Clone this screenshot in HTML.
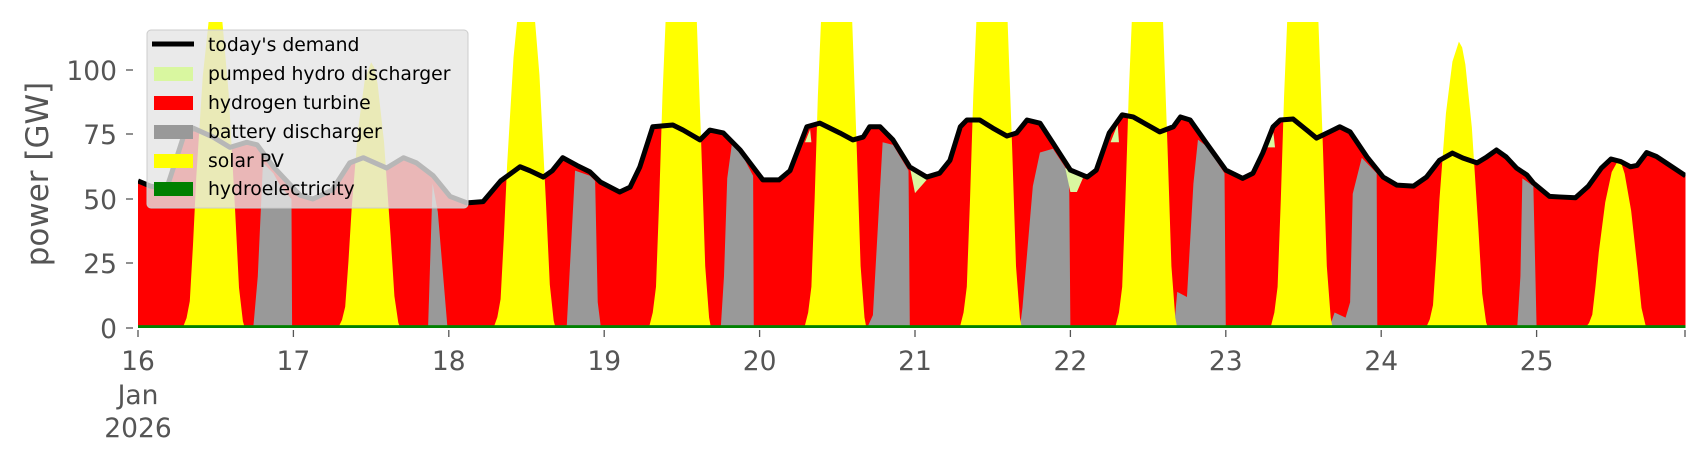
<!DOCTYPE html>
<html><head><meta charset="utf-8"><style>
html,body{margin:0;padding:0;background:#fff;}
svg{display:block;font-family:"DejaVu Sans","Liberation Sans",sans-serif;}
</style></head><body>
<svg width="1706" height="460" viewBox="0 0 1706 460" xmlns="http://www.w3.org/2000/svg">
<defs>
<clipPath id="cp"><rect x="0" y="0" width="239" height="118.6"/></clipPath>
<polygon id="sol" points="6.9,0 7.5,0.03 8,0.08 8.5,0.25 9,0.45 10,0.75 11,0.93 12,1 12.5,0.98 13,0.92 14,0.7 15,0.35 15.6,0.12 16.2,0.02 16.5,0"/>
</defs>
<g transform="translate(138,328) scale(6.475,-2.58)">
<g clip-path="url(#cp)">
<polygon fill="#ff0000" points="0,0 0,57 1.9,55 4.4,54 5,58.5 7,74 8.5,77.5 11.6,74 14.2,70 16.8,72 18.4,71 20.9,62.5 25,51.5 27,50 30,53.5 32.7,64 34.8,66 38.4,62 41,66 43,64 45.6,59 48.2,51 50.8,48.5 53.3,49 56,57 59,62.5 60.5,61 62.6,58.5 64,61 65.6,66 67.8,63 69.8,60.5 71.4,56.6 74.4,52.7 76,54.6 77.5,62.4 79.5,78 82.6,78.7 84.2,76.7 86.8,72.9 88.3,76.7 90.4,75.6 93,69 96.5,57.4 99,57.4 100.7,61 103.3,78 105.3,79.4 108.4,75.6 110.4,72.9 112,74 113,78 114.6,78 116.6,72.9 119.2,62.4 121.8,58.5 123.8,60 125.4,65 127,78 128,80.6 130,80.6 132,77.5 134.2,74.4 135.7,75.6 137.3,80.6 139.3,79.4 141.3,71.7 144,61.2 146.6,58.5 148,61.2 150,75.6 152,82.6 153.7,81.8 157.8,76 159.9,78 161,81.8 162.5,80.6 165,71.7 168,61.2 170.6,58 172.2,60 173.7,67.8 175.3,78 176.4,80.6 178.4,81 180.5,76.7 182,73.6 184,76 185.6,78 187.2,76 189.8,66.3 192.3,58.5 194.4,55.4 197,55 199,58.5 201,65 203,67.8 204.6,65.9 206.8,64 208.3,66.3 209.8,69 211.3,66.3 212.9,62 214.5,59.3 215.5,56.2 218,51 219.5,50.8 222,50.5 224,55 226,62 227.5,65.5 229,64.5 230.5,62.5 231.5,63 233,68 234.5,66.5 236,64 239,59 239,0"/>
<g fill="#999999">
<polygon points="17.8,0 18.5,20 19.3,64 20.9,60 22,55 23.7,50 23.8,0"/>
<polygon points="44.8,0 45.5,56 46.3,45 47.8,0"/>
<polygon points="66.2,0 67.5,61 69.8,59 70.6,57 71,10 71.5,0"/>
<polygon points="90,0 90.5,20 91,58 91.7,71 93,68.5 95,59 95.1,0"/>
<polygon points="112.6,0 113.5,5 115,72 116.6,71 119,61 119.2,0"/>
<polygon points="136.2,0 136.6,8 138.2,55 139.3,68 141.3,69.5 143.8,60 144,0"/>
<polygon points="160,0 160.5,14 162,12 163,56 163.7,73 165,70.5 167.8,60 168,0"/>
<polygon points="184,0 184.8,6 186.5,4 187.2,10 187.6,52 189,66 191.3,60 191.4,0"/>
<polygon points="213,0 213.5,20 213.8,58 215.5,55 216,0"/>
</g>
<g fill="#ffff00">
<use href="#sol" transform="translate(0,0) scale(1,130)"/>
<use href="#sol" transform="translate(24,0) scale(1,103)"/>
<use href="#sol" transform="translate(48,0) scale(1,140)"/>
<use href="#sol" transform="translate(72,0) scale(1,200)"/>
<use href="#sol" transform="translate(96,0) scale(1,200)"/>
<use href="#sol" transform="translate(120,0) scale(1,200)"/>
<use href="#sol" transform="translate(144,0) scale(1,200)"/>
<use href="#sol" transform="translate(168,0) scale(1,200)"/>
<use href="#sol" transform="translate(192,0) scale(1,111)"/>
<use href="#sol" transform="translate(216.6,0) scale(1,65)"/>
</g>
<g fill="#d9f7a0">
<polygon points="119.2,62.4 121.8,57.4 120,52.3"/>
<polygon points="143.2,62 144,52.7 145,52.7 146,58.5"/>
<polygon points="150.2,72 151.3,79 151.5,72"/>
<polygon points="174.4,70 175.3,77 175.6,70"/>
<polygon points="103,72 103.8,77 104,72"/>
</g>
<rect x="0" y="0" width="239" height="1.1" fill="#008000"/>
<polyline fill="none" stroke="#000" stroke-width="5" stroke-linejoin="round" vector-effect="non-scaling-stroke" points="0,57 1.9,55 4.4,54 5,58.5 7,74 8.5,77.5 11.6,74 14.2,70 16.8,72 18.4,71 20.9,62.5 25,51.5 27,50 30,53.5 32.7,64 34.8,66 38.4,62 41,66 43,64 45.6,59 48.2,51 50.8,48.5 53.3,49 56,57 59,62.5 60.5,61 62.6,58.5 64,61 65.6,66 67.8,63 69.8,60.5 71.4,56.6 74.4,52.7 76,54.6 77.5,62.4 79.5,78 82.6,78.7 84.2,76.7 86.8,72.9 88.3,76.7 90.4,75.6 93,69 96.5,57.4 99,57.4 100.7,61 103.3,78 105.3,79.4 108.4,75.6 110.4,72.9 112,74 113,78 114.6,78 116.6,72.9 119.2,62.4 121.8,58.5 123.8,60 125.4,65 127,78 128,80.6 130,80.6 132,77.5 134.2,74.4 135.7,75.6 137.3,80.6 139.3,79.4 141.3,71.7 144,61.2 146.6,58.5 148,61.2 150,75.6 152,82.6 153.7,81.8 157.8,76 159.9,78 161,81.8 162.5,80.6 165,71.7 168,61.2 170.6,58 172.2,60 173.7,67.8 175.3,78 176.4,80.6 178.4,81 180.5,76.7 182,73.6 184,76 185.6,78 187.2,76 189.8,66.3 192.3,58.5 194.4,55.4 197,55 199,58.5 201,65 203,67.8 204.6,65.9 206.8,64 208.3,66.3 209.8,69 211.3,66.3 212.9,62 214.5,59.3 215.5,56.2 218,51 219.5,50.8 222,50.5 224,55 226,62 227.5,65.5 229,64.5 230.5,62.5 231.5,63 233,68 234.5,66.5 236,64 239,59"/>
</g>
</g>
<g stroke="#555" stroke-width="1.3">
<line x1="126" y1="70" x2="133" y2="70"/><line x1="126" y1="134" x2="133" y2="134"/><line x1="126" y1="199" x2="133" y2="199"/><line x1="126" y1="263" x2="133" y2="263"/><line x1="126" y1="328" x2="133" y2="328"/>
<line x1="138" y1="330" x2="138" y2="337"/><line x1="293.4" y1="330" x2="293.4" y2="337"/><line x1="448.8" y1="330" x2="448.8" y2="337"/><line x1="604.2" y1="330" x2="604.2" y2="337"/><line x1="759.6" y1="330" x2="759.6" y2="337"/><line x1="915" y1="330" x2="915" y2="337"/><line x1="1070.4" y1="330" x2="1070.4" y2="337"/><line x1="1225.8" y1="330" x2="1225.8" y2="337"/><line x1="1381.2" y1="330" x2="1381.2" y2="337"/><line x1="1536.6" y1="330" x2="1536.6" y2="337"/><line x1="1685" y1="330" x2="1685" y2="337"/>
</g>
<g fill="#555" font-size="26.5" text-anchor="end">
<text x="117" y="80">100</text><text x="117" y="144">75</text><text x="117" y="209">50</text><text x="117" y="273">25</text><text x="117" y="338">0</text>
</g>
<g fill="#555" font-size="26.5" text-anchor="middle">
<text x="138" y="370">16</text><text x="138" y="404">Jan</text><text x="138" y="437">2026</text>
<text x="293.4" y="370">17</text><text x="448.8" y="370">18</text><text x="604.2" y="370">19</text><text x="759.6" y="370">20</text><text x="915" y="370">21</text><text x="1070.4" y="370">22</text><text x="1225.8" y="370">23</text><text x="1381.2" y="370">24</text><text x="1536.6" y="370">25</text>
</g>
<text transform="translate(48,174) rotate(-90)" text-anchor="middle" fill="#555" font-size="31">power [GW]</text>
<rect x="147" y="30" width="321" height="178" rx="4" fill="rgba(229,229,229,0.8)" stroke="#cccccc" stroke-width="1"/>
<line x1="152" y1="44" x2="194" y2="44" stroke="#000" stroke-width="5"/>
<rect x="154" y="67" width="39" height="14" fill="#d9f7a0"/>
<rect x="154" y="96" width="39" height="14" fill="#ff0000"/>
<rect x="154" y="125" width="39" height="14" fill="#999999"/>
<rect x="154" y="154" width="39" height="14" fill="#ffff00"/>
<rect x="154" y="182" width="39" height="14" fill="#008000"/>
<g fill="#000" font-size="18.8">
<text x="208" y="51">today's demand</text>
<text x="208" y="80">pumped hydro discharger</text>
<text x="208" y="109">hydrogen turbine</text>
<text x="208" y="138">battery discharger</text>
<text x="208" y="167">solar PV</text>
<text x="208" y="195">hydroelectricity</text>
</g>
</svg>
</body></html>
